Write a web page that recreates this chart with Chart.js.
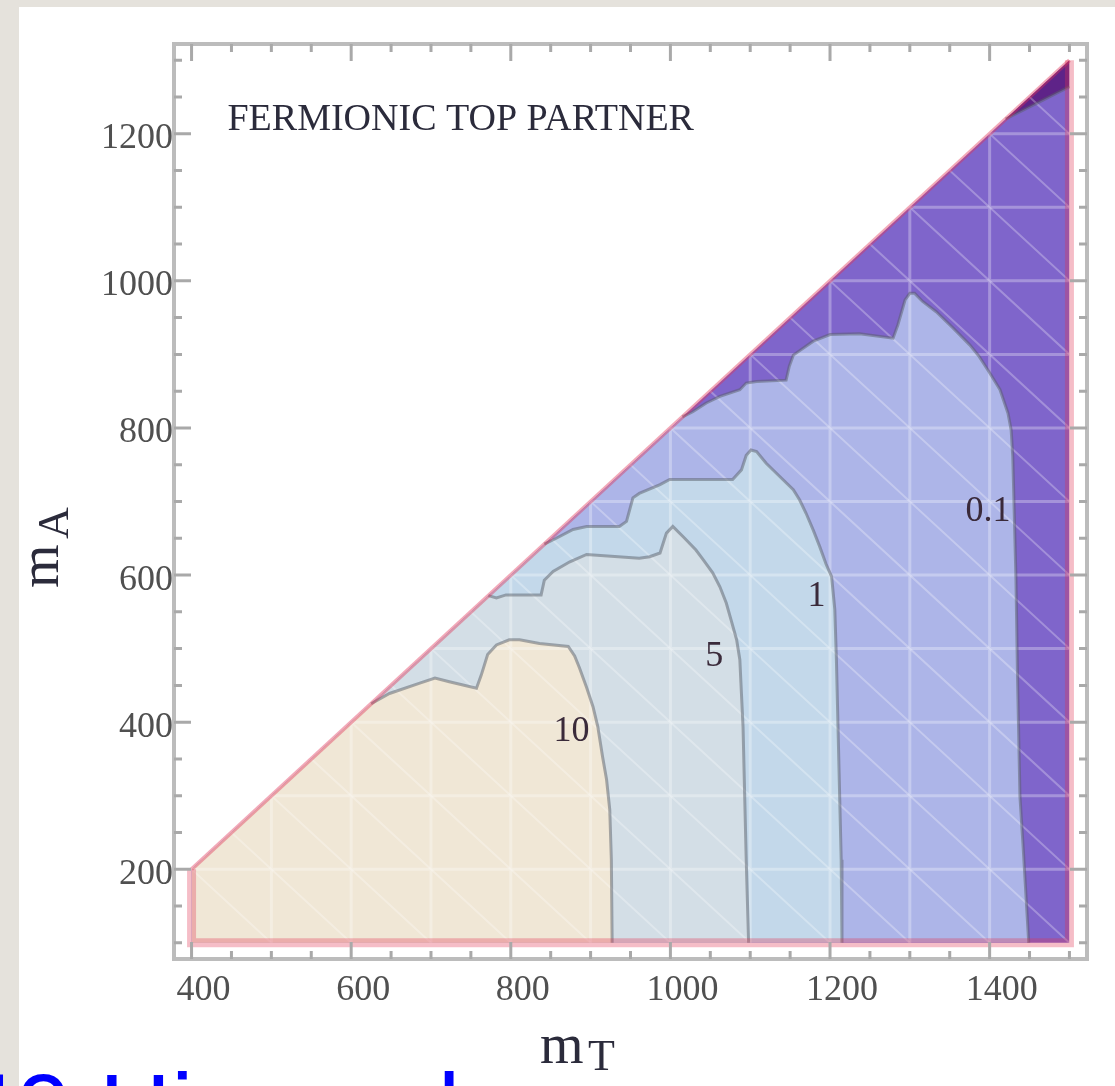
<!DOCTYPE html>
<html>
<head>
<meta charset="utf-8">
<script src="https://cdn.jsdelivr.net/npm/chart.js"></script>
<style>
html, body { margin: 0; padding: 0; width: 1115px; height: 1086px; overflow: hidden; background: #e5e2dc; }
#panel { position: absolute; left: 19px; top: 7px; width: 1096px; height: 1079px; background: #fff; }
#c { position: absolute; left: 0; top: 0; }
</style>
</head>
<body>
<div id="panel"></div>
<canvas id="c" width="1115" height="1086"></canvas>
<script>
// domain of the scan (triangle mT >= mA + 200)
var domainX = [400, 400, 1500, 1500];
var domainY = [100, 200, 1300, 100];

// contour lines, from the diagonal down to mA = 100
var contour10 = [[625,425],[648,439],[686,453],[705,460],[723,455],[757,446],[763,464],[771,492],[782,505],[798,512],[811,512],[836,507],[872,503],[880,490],[886,474],[895,447],[903,421],[909,394],[915,353],[920,322],[924,281],[926,213],[927,100]];
var contour5 = [[772,572],[782,569],[794,573],[838,573],[842,593],[853,605],[874,618],[895,628],[961,623],[974,625],[987,630],[995,657],[1003,666],[1016,652],[1032,634],[1041,621],[1053,603],[1062,584],[1070,562],[1076,539],[1083,512],[1087,485],[1089,439],[1091,394],[1093,303],[1095,213],[1098,100]];
var contour1 = [[842,642],[857,650],[878,662],[895,666],[936,666],[945,673],[953,705],[961,711],[987,723],[999,730],[1078,730],[1089,743],[1095,763],[1101,770],[1108,768],[1120,752],[1137,734],[1154,716],[1162,702],[1170,684],[1179,661],[1187,639],[1195,615],[1202,598],[1206,553],[1208,485],[1210,394],[1212,303],[1214,213],[1215,100]];
var contour01 = [[1015,815],[1028,822],[1045,834],[1062,843],[1087,852],[1095,861],[1108,863],[1145,865],[1149,884],[1154,899],[1179,918],[1200,927],[1237,928],[1279,922],[1285,940],[1294,974],[1300,983],[1306,983],[1316,972],[1333,958],[1354,936],[1375,913],[1387,897],[1400,875],[1413,852],[1423,820],[1427,797],[1429,761],[1430,720],[1433,594],[1435,458],[1438,299],[1442,230],[1449,100]];
var contourTip = [[1420,1220],[1460,1242],[1500,1264]];
var tipEdge = [[1420,1220],[1500,1300]];

var contourLabels = ['10', '5', '1', '0.1'];
var labelAt = [[876,387],[1055,489],[1183,571],[1398,686]];

var xTicks = [400, 600, 800, 1000, 1200, 1400];
var yTicks = [200, 400, 600, 800, 1000, 1200];

function pts(a) { return a.map(function(p) { return {x: p[0], y: p[1]}; }); }
var corner = [[domainX[1], domainY[1]]];

function region(line, color, order) {
    return { data: pts(corner.concat(line)), showLine: true, borderWidth: 0, borderColor: 'transparent',
             backgroundColor: color, fill: {value: domainY[0]}, pointRadius: 0, order: order };
}
function contourLine(line) {
    return { data: pts(line), showLine: true, fill: false, borderColor: 'rgba(90,95,105,0.5)',
             borderWidth: 3, pointRadius: 0, order: 3, isContour: true };
}

var domainPts = [];
for (var i = 1; i < domainX.length; i++) domainPts.push([domainX[i], domainY[i]]);
// the diagonal edge and the three straight edges of the domain
var diagEdge = [[domainX[1], domainY[1]], [domainX[2], domainY[2]]];
var outerEdge = [[domainX[2], domainY[2]], [domainX[3], domainY[3]], [domainX[0], domainY[0]], [domainX[1], domainY[1]]];

var datasets = [
    { data: pts(domainPts), showLine: true, borderWidth: 0, borderColor: 'transparent', backgroundColor: '#7f65cb', fill: {value: domainY[0]}, pointRadius: 0, order: 10 },
    region(contour01, '#adb5e8', 9),
    region(contour1, '#c3d8ea', 8),
    region(contour5, '#d3dee6', 7),
    region(contour10, '#f0e7d6', 6),
    contourLine(contourTip),   // index 5
    { data: pts(tipEdge), showLine: true, borderWidth: 0, borderColor: 'transparent', backgroundColor: '#5e2388', fill: 5, pointRadius: 0, order: 5 },
    contourLine(contour10),
    contourLine(contour5),
    contourLine(contour1),
    contourLine(contour01),
    { data: pts(outerEdge), showLine: true, fill: false, borderColor: 'rgba(225,50,80,0.32)', borderWidth: 9, pointRadius: 0, order: 1 },
    { data: pts(diagEdge), showLine: true, fill: false, borderColor: 'rgba(225,50,85,0.42)', borderWidth: 4, pointRadius: 0, order: 1 }
];

function px(chart, x, y) { return [chart.scales.x.getPixelForValue(x), chart.scales.y.getPixelForValue(y)]; }

function seg(chart, x1, y1, x2, y2) {
    var a = px(chart, x1, y1), b = px(chart, x2, y2);
    chart.ctx.moveTo(a[0], a[1]); chart.ctx.lineTo(b[0], b[1]);
}

// mesh of the plot (grid every 100 and the cell diagonals), only inside the domain
var meshDone = false;
function drawMesh(chart) {
    var c = chart.ctx;
    c.save();
    c.beginPath();
    for (var i = 0; i < domainX.length; i++) {
        var p = px(chart, domainX[i], domainY[i]);
        if (i) c.lineTo(p[0], p[1]); else c.moveTo(p[0], p[1]);
    }
    c.closePath();
    c.clip();
    c.strokeStyle = 'rgba(255,255,255,0.3)';
    c.lineWidth = 3;
    c.beginPath();
    for (var x = 500; x < 1500; x += 100) seg(chart, x, 100, x, 1300);
    for (var y = 200; y < 1300; y += 100) seg(chart, 400, y, 1500, y);
    c.stroke();
    c.strokeStyle = 'rgba(255,255,255,0.28)';
    c.lineWidth = 2;
    c.beginPath();
    for (var s = 500; s <= 2800; s += 100) seg(chart, 400, s - 400, 1500, s - 1500);
    c.stroke();
    c.restore();
}

var plotExtras = {
    id: 'plotExtras',
    beforeDatasetsDraw: function() { meshDone = false; },
    beforeDatasetDraw: function(chart, args) {
        if (!meshDone && chart.data.datasets[args.index].isContour) { drawMesh(chart); meshDone = true; }
    },
    afterDraw: function(chart) {
        var c = chart.ctx, a = chart.chartArea;
        c.save();
        // contour labels
        c.font = '36px "Liberation Serif", serif';
        c.fillStyle = '#3a2a3a';
        c.textAlign = 'center';
        c.textBaseline = 'middle';
        contourLabels.forEach(function(t, i) {
            var p = px(chart, labelAt[i][0], labelAt[i][1]);
            c.fillText(t, p[0], p[1]);
        });
        // plot label
        c.font = '38px "Liberation Serif", serif';
        c.fillStyle = '#2b2b3b';
        c.textAlign = 'left';
        c.textBaseline = 'alphabetic';
        var t = px(chart, 445, 1205);
        c.fillText('FERMIONIC TOP PARTNER', t[0], t[1]);

        // frame with inward ticks
        c.strokeStyle = '#bcbcbc';
        c.lineWidth = 4;
        c.strokeRect(a.left, a.top, a.right - a.left, a.bottom - a.top);
        c.strokeStyle = '#a9a9a9';
        c.lineWidth = 3;
        c.beginPath();
        for (var v = 400; v <= 1500; v += 50) {
            var x = chart.scales.x.getPixelForValue(v), len = (v % 200 === 0 ? 15 : 6) + 2;
            c.moveTo(x, a.bottom); c.lineTo(x, a.bottom - len);
            c.moveTo(x, a.top); c.lineTo(x, a.top + len);
        }
        for (var v = 100; v <= 1300; v += 50) {
            var y = chart.scales.y.getPixelForValue(v), len = (v % 200 === 0 ? 15 : 6) + 2;
            c.moveTo(a.left, y); c.lineTo(a.left + len, y);
            c.moveTo(a.right, y); c.lineTo(a.right - len, y);
        }
        c.stroke();

        // axis titles m_T and m_A
        c.fillStyle = '#2b2b3b';
        c.font = '56px "Liberation Serif", serif';
        c.fillText('m', 540, a.bottom + 104);
        c.font = '44px "Liberation Serif", serif';
        c.fillText('T', 588, a.bottom + 111);
        c.save();
        c.translate(58, 588);
        c.rotate(-Math.PI / 2);
        c.font = '56px "Liberation Serif", serif';
        c.fillText('m', 0, 0);
        c.font = '44px "Liberation Serif", serif';
        c.fillText('A', 49, 10);
        c.restore();

        // slide text below the figure, cut by the bottom edge
        c.font = '100px "Liberation Sans", Arial, sans-serif';
        c.fillStyle = '#0000ff';
        c.fillText('40 Higgs al', 99 - c.measureText('40 ').width, 1144);
        c.restore();
    }
};

var tickFont = { family: '"Liberation Serif", serif', size: 36 };

var ctx = document.getElementById('c').getContext('2d');
var chart = new Chart(ctx, {
    type: 'scatter',
    data: { datasets: datasets },
    options: {
        responsive: false,
        animation: false,
        layout: { padding: { left: 74, right: 28, top: 44, bottom: 67 } },
        plugins: { legend: { display: false }, tooltip: { enabled: false } },
        scales: {
            x: {
                type: 'linear', min: 378, max: 1522,
                grid: { display: false, drawTicks: false }, border: { display: false },
                afterBuildTicks: function(s) { s.ticks = xTicks.map(function(v) { return {value: v}; }); },
                afterFit: function(s) { s.height = 60; },
                ticks: { font: tickFont, color: '#505050', padding: 10, labelOffset: 12, maxRotation: 0, autoSkip: false,
                         callback: function(v) { return String(v); } }
            },
            y: {
                type: 'linear', min: 78, max: 1322,
                grid: { display: false, drawTicks: false }, border: { display: false },
                afterBuildTicks: function(s) { s.ticks = yTicks.map(function(v) { return {value: v}; }); },
                afterFit: function(s) { s.width = 100; },
                ticks: { font: tickFont, color: '#505050', padding: 1, labelOffset: 5, autoSkip: false,
                         callback: function(v) { return String(v); } }
            }
        }
    },
    plugins: [plotExtras]
});
</script>
</body>
</html>
